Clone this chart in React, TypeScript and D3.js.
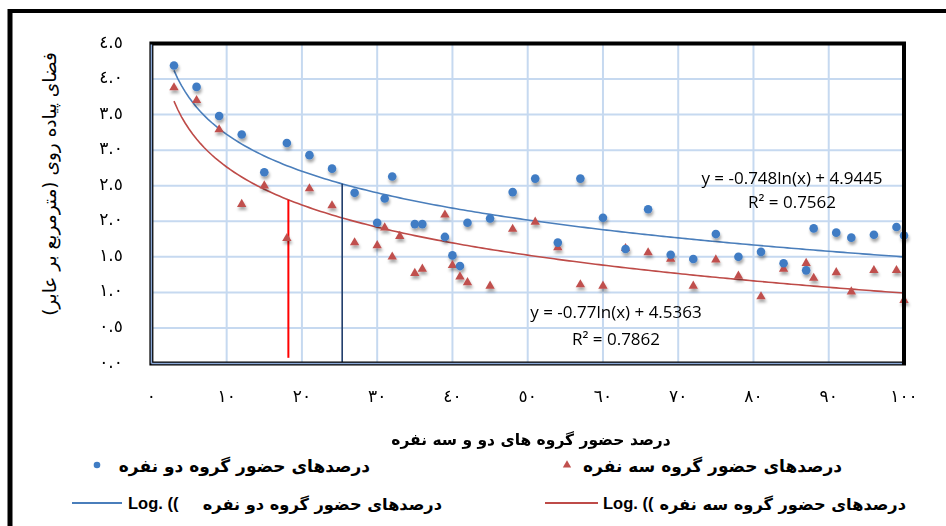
import React from "react";
import * as d3 from "d3";

const W = 946;
const H = 526;

// Two-person group attendance (blue circles)
const blueX = [3, 6, 9, 12, 15, 18, 21, 24, 27, 30, 31, 32, 35, 36, 39, 40, 41, 42, 45, 48, 51, 54, 57, 60, 63, 66, 69, 72, 75, 78, 81, 84, 87, 88, 91, 93, 96, 99, 100];
const blueY = [4.19, 3.89, 3.48, 3.22, 2.69, 3.10, 2.93, 2.74, 2.40, 1.98, 2.32, 2.63, 1.96, 1.96, 1.78, 1.52, 1.37, 1.98, 2.04, 2.41, 2.60, 1.70, 2.60, 2.05, 1.61, 2.17, 1.53, 1.47, 1.82, 1.50, 1.57, 1.41, 1.31, 1.90, 1.84, 1.77, 1.81, 1.92, 1.80];

// Three-person group attendance (red triangles)
const redX = [3, 6, 9, 12, 15, 18, 21, 24, 27, 30, 31, 32, 33, 35, 36, 39, 40, 41, 42, 45, 48, 51, 54, 57, 60, 63, 66, 69, 72, 75, 78, 81, 84, 87, 88, 91, 93, 96, 99, 100];
const redY = [3.88, 3.70, 3.29, 2.24, 2.50, 1.76, 2.46, 2.22, 1.70, 1.66, 1.91, 1.50, 1.79, 1.27, 1.33, 2.09, 1.38, 1.22, 1.14, 1.09, 1.89, 1.99, 1.63, 1.11, 1.09, 1.62, 1.56, 1.47, 1.09, 1.46, 1.23, 0.94, 1.33, 1.41, 1.20, 1.28, 1.01, 1.31, 1.31, 0.89];

// Logarithmic trendline coefficients [slope, intercept]
const blueFit = [-0.748, 4.9445];
const redFit = [-0.77, 4.5363];
const blueEq = ["y = -0.748ln(x) + 4.9445", "R² = 0.7562"];
const redEq = ["y = -0.77ln(x) + 4.5363", "R² = 0.7862"];

// Reference drop lines (x positions)
const redDropX = 18.2;
const blueDropX = 25.35;

const xTicks = [0, 10, 20, 30, 40, 50, 60, 70, 80, 90, 100];
const yTicks = [0, 0.5, 1, 1.5, 2, 2.5, 3, 3.5, 4, 4.5];

const xTitle = "درصد حضور گروه های دو و سه نفره";
const yTitle = "فضای پیاده روی (مترمربع بر عابر)";
const legBlue = "درصدهای حضور گروه دو نفره";
const legRed = "درصدهای حضور گروه سه نفره";

const toArabic = (s: string) => s.replace(/[0-9]/g, (d) => "٠١٢٣٤٥٦٧٨٩"[+d]);

const x = d3.scaleLinear().domain([0, 100]).range([151.4, 904]);
const y = d3.scaleLinear().domain([0, 4.5]).range([363.5, 43.5]);

const BLUE = "#3f7cc4";
const RED = "#c0504d";
const BLUE_LINE = "#4a7ebb";
const RED_LINE = "#be4b48";
const GRID = "#c6d9f0";
const AR = "'DejaVu Sans', sans-serif";
const LAT = "'Open Sans', 'Liberation Sans', Arial, sans-serif";
const LATB = "'Liberation Sans', Arial, sans-serif";

export default function App() {
  const fitPts = d3.range(3, 100.001, 0.5);
  const line = d3
    .line<number>()
    .x((d) => x(d))
    .curve(d3.curveLinear);
  const bluePath = line.y((d) => y(blueFit[0] * Math.log(d) + blueFit[1]))(fitPts) || "";
  const redPath = line.y((d) => y(redFit[0] * Math.log(d) + redFit[1]))(fitPts) || "";
  const tri = d3.symbol().type(d3.symbolTriangle).size(38)() || "";
  const triSmall = d3.symbol().type(d3.symbolTriangle).size(30)() || "";

  const redTop = redFit[0] * Math.log(redDropX) + redFit[1];
  const blueTop = blueFit[0] * Math.log(blueDropX) + blueFit[1];

  const [x0, x1] = x.range();
  const [y0, y1] = y.range();

  return (
    <svg width={W} height={H} style={{ position: "absolute", left: 0, top: 0, background: "#fff" }}>
      <defs>
        <filter id="sh" x="-50%" y="-50%" width="200%" height="220%">
          <feDropShadow dx="1" dy="3" stdDeviation="1.4" floodColor="#000" floodOpacity="0.35" />
        </filter>
      </defs>
      <rect width={W} height={H} fill="#fff" />
      {/* outer frame */}
      <line x1={8} x2={W} y1={11} y2={11} stroke="#000" strokeWidth={4} />
      <line x1={10} x2={10} y1={9} y2={H} stroke="#000" strokeWidth={5} />

      {/* grid */}
      {xTicks.slice(1, -1).map((t) => (
        <line key={"gx" + t} x1={x(t)} x2={x(t)} y1={y1} y2={y0} stroke={GRID} strokeWidth={2} />
      ))}
      {yTicks.slice(1, -1).map((t) => (
        <line key={"gy" + t} x1={x0} x2={x1} y1={y(t)} y2={y(t)} stroke={GRID} strokeWidth={2} />
      ))}

      {/* trendlines */}
      <path d={bluePath} fill="none" stroke={BLUE_LINE} strokeWidth={1.6} />
      <path d={redPath} fill="none" stroke={RED_LINE} strokeWidth={1.6} />

      {/* drop lines */}
      <line x1={x(redDropX)} x2={x(redDropX)} y1={y(redTop)} y2={y(0.08)} stroke="#ff0000" strokeWidth={2} />
      <line x1={x(blueDropX)} x2={x(blueDropX)} y1={y(blueTop)} y2={y(0)} stroke="#1f3d6b" strokeWidth={1.6} />

      {/* markers */}
      <g filter="url(#sh)">
        {redX.map((v, i) => (
          <path key={"r" + i} d={tri} transform={`translate(${x(v)},${y(redY[i])})`} fill={RED} />
        ))}
        {blueX.map((v, i) => (
          <circle key={"b" + i} cx={x(v)} cy={y(blueY[i])} r={4.3} fill={BLUE} />
        ))}
      </g>

      {/* plot frame */}
      <rect x={x0} y={y1} width={x1 - x0} height={y0 - y1} fill="none" stroke="#000" strokeWidth={4} />
      <line x1={x0} x2={x0} y1={y1 + 1} y2={y0} stroke="#8aa8d6" strokeWidth={1.5} />
      <line x1={x0} x2={x1 - 2} y1={y0} y2={y0} stroke="#8aa8d6" strokeWidth={1.5} />
      <line x1={x1} x2={x1 + 1} y1={y1} y2={y0} stroke="#000" strokeWidth={1} />

      {/* equations */}
      <g fontFamily={LAT} fontSize={17} fill="#000" textAnchor="middle">
        <text x={792} y={184}>{blueEq[0]}</text>
        <text x={792} y={208}>{blueEq[1]}</text>
        <text x={616} y={318}>{redEq[0]}</text>
        <text x={616} y={345}>{redEq[1]}</text>
      </g>

      {/* ticks */}
      <g fontFamily={AR} fontSize={17} fill="#000" textAnchor="middle">
        {yTicks.map((t) => (
          <text key={"yt" + t} x={111} y={y(t) + 4}>
            {toArabic(t.toFixed(1))}
          </text>
        ))}
        {xTicks.map((t) => (
          <text key={"xt" + t} x={x(t)} y={402}>
            {toArabic(String(t))}
          </text>
        ))}
      </g>

      {/* axis titles */}
      <text x={531} y={445} fontFamily={AR} fontSize={15.5} fontWeight="bold" textAnchor="middle">
        {xTitle}
      </text>
      <text
        transform="translate(56,184) rotate(-90)"
        fontFamily={AR}
        fontSize={18.5}
        textAnchor="middle"
      >
        {yTitle}
      </text>

      {/* legend */}
      <g fontFamily={AR} fontSize={17} fontWeight="bold" fill="#000">
        <circle cx={97} cy={465} r={3.3} fill={BLUE} />
        <text x={370} y={472} textAnchor="end">{legBlue}</text>
        <path d={triSmall} transform="translate(567,465)" fill={RED} />
        <text x={842} y={472} textAnchor="end">{legRed}</text>

        <line x1={72} x2={122} y1={503} y2={503} stroke={BLUE_LINE} strokeWidth={2} />
        <text x={128} y={509} fontFamily={LATB} fontSize={16.5}>Log. ((</text>
        <text x={442} y={510} textAnchor="end" fontSize={16.2}>{legBlue}</text>
        <line x1={545} x2={598} y1={503} y2={503} stroke={RED_LINE} strokeWidth={2} />
        <text x={603} y={509} fontFamily={LATB} fontSize={16.5}>Log. ((</text>
        <text x={906} y={510} textAnchor="end" fontSize={16.2}>{legRed}</text>
      </g>
    </svg>
  );
}
